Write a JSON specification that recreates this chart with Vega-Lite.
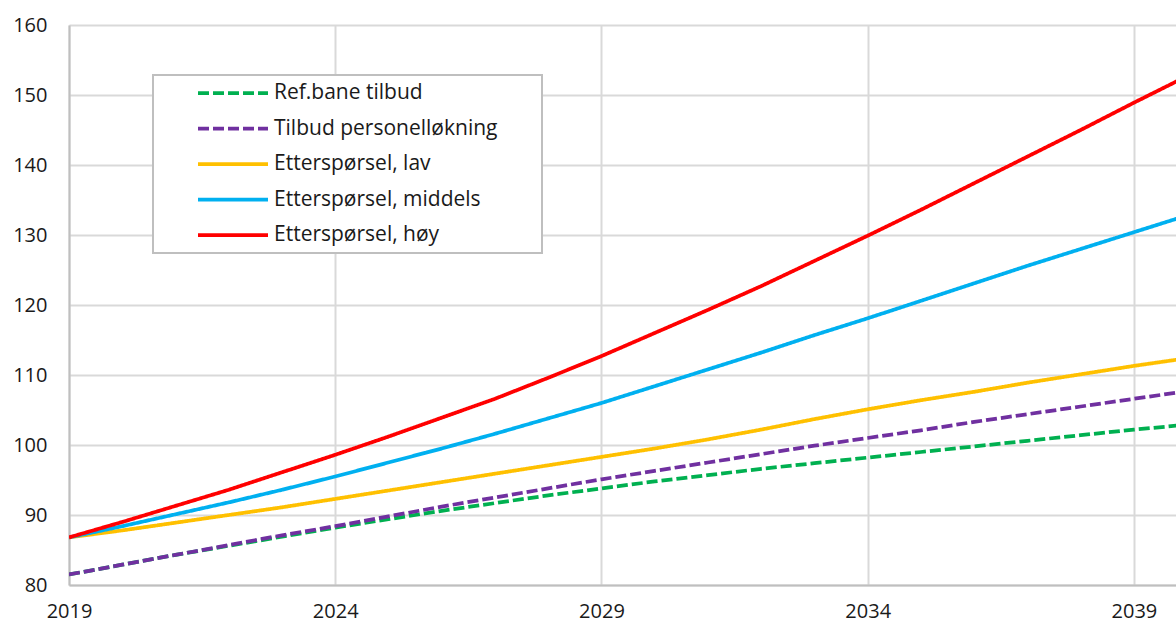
{
  "$schema": "https://vega.github.io/schema/vega-lite/v6.json",
  "width": 1107,
  "height": 560,
  "autosize": {"type": "none"},
  "padding": {"left": 69, "top": 25, "right": 0, "bottom": 39},
  "background": "white",
  "config": {
    "view": {"stroke": null},
    "font": "Open Sans",
    "legend": {
      "orient": "none",
      "legendX": 84,
      "legendY": 50,
      "title": null,
      "fillColor": "white",
      "strokeColor": "#bfbfbf",
      "strokeWidth": 2,
      "padding": 6,
      "symbolType": "stroke",
      "symbolSize": 4900,
      "symbolStrokeWidth": 3.75,
      "symbolOffset": 37,
      "clipHeight": 24,
      "labelOffset": 4,
      "labelFontSize": 21,
      "labelColor": "#1a1a1a",
      "labelFont": "Open Sans",
      "labelLimit": 500,
      "rowPadding": 11.5
    }
  },
  "data": {
    "values": [
      {"year": 2019, "series": "Ref.bane tilbud", "value": 81.5},
      {"year": 2020, "series": "Ref.bane tilbud", "value": 82.9},
      {"year": 2021, "series": "Ref.bane tilbud", "value": 84.3},
      {"year": 2022, "series": "Ref.bane tilbud", "value": 85.6},
      {"year": 2023, "series": "Ref.bane tilbud", "value": 86.9},
      {"year": 2024, "series": "Ref.bane tilbud", "value": 88.2},
      {"year": 2025, "series": "Ref.bane tilbud", "value": 89.4},
      {"year": 2026, "series": "Ref.bane tilbud", "value": 90.6},
      {"year": 2027, "series": "Ref.bane tilbud", "value": 91.7},
      {"year": 2028, "series": "Ref.bane tilbud", "value": 92.8},
      {"year": 2029, "series": "Ref.bane tilbud", "value": 93.8},
      {"year": 2030, "series": "Ref.bane tilbud", "value": 94.8},
      {"year": 2031, "series": "Ref.bane tilbud", "value": 95.7},
      {"year": 2032, "series": "Ref.bane tilbud", "value": 96.6},
      {"year": 2033, "series": "Ref.bane tilbud", "value": 97.4},
      {"year": 2034, "series": "Ref.bane tilbud", "value": 98.2},
      {"year": 2035, "series": "Ref.bane tilbud", "value": 99.0},
      {"year": 2036, "series": "Ref.bane tilbud", "value": 99.8},
      {"year": 2037, "series": "Ref.bane tilbud", "value": 100.6},
      {"year": 2038, "series": "Ref.bane tilbud", "value": 101.4},
      {"year": 2039, "series": "Ref.bane tilbud", "value": 102.2},
      {"year": 2040, "series": "Ref.bane tilbud", "value": 102.9},

      {"year": 2019, "series": "Tilbud personelløkning", "value": 81.5},
      {"year": 2020, "series": "Tilbud personelløkning", "value": 82.9},
      {"year": 2021, "series": "Tilbud personelløkning", "value": 84.3},
      {"year": 2022, "series": "Tilbud personelløkning", "value": 85.7},
      {"year": 2023, "series": "Tilbud personelløkning", "value": 87.1},
      {"year": 2024, "series": "Tilbud personelløkning", "value": 88.4},
      {"year": 2025, "series": "Tilbud personelløkning", "value": 89.8},
      {"year": 2026, "series": "Tilbud personelløkning", "value": 91.2},
      {"year": 2027, "series": "Tilbud personelløkning", "value": 92.5},
      {"year": 2028, "series": "Tilbud personelløkning", "value": 93.8},
      {"year": 2029, "series": "Tilbud personelløkning", "value": 95.1},
      {"year": 2030, "series": "Tilbud personelløkning", "value": 96.3},
      {"year": 2031, "series": "Tilbud personelløkning", "value": 97.5},
      {"year": 2032, "series": "Tilbud personelløkning", "value": 98.7},
      {"year": 2033, "series": "Tilbud personelløkning", "value": 99.9},
      {"year": 2034, "series": "Tilbud personelløkning", "value": 101.0},
      {"year": 2035, "series": "Tilbud personelløkning", "value": 102.1},
      {"year": 2036, "series": "Tilbud personelløkning", "value": 103.3},
      {"year": 2037, "series": "Tilbud personelløkning", "value": 104.4},
      {"year": 2038, "series": "Tilbud personelløkning", "value": 105.5},
      {"year": 2039, "series": "Tilbud personelløkning", "value": 106.6},
      {"year": 2040, "series": "Tilbud personelløkning", "value": 107.7},

      {"year": 2019, "series": "Etterspørsel, lav", "value": 86.8},
      {"year": 2020, "series": "Etterspørsel, lav", "value": 87.8},
      {"year": 2021, "series": "Etterspørsel, lav", "value": 88.9},
      {"year": 2022, "series": "Etterspørsel, lav", "value": 90.0},
      {"year": 2023, "series": "Etterspørsel, lav", "value": 91.1},
      {"year": 2024, "series": "Etterspørsel, lav", "value": 92.3},
      {"year": 2025, "series": "Etterspørsel, lav", "value": 93.5},
      {"year": 2026, "series": "Etterspørsel, lav", "value": 94.7},
      {"year": 2027, "series": "Etterspørsel, lav", "value": 95.9},
      {"year": 2028, "series": "Etterspørsel, lav", "value": 97.1},
      {"year": 2029, "series": "Etterspørsel, lav", "value": 98.3},
      {"year": 2030, "series": "Etterspørsel, lav", "value": 99.5},
      {"year": 2031, "series": "Etterspørsel, lav", "value": 100.8},
      {"year": 2032, "series": "Etterspørsel, lav", "value": 102.2},
      {"year": 2033, "series": "Etterspørsel, lav", "value": 103.7},
      {"year": 2034, "series": "Etterspørsel, lav", "value": 105.1},
      {"year": 2035, "series": "Etterspørsel, lav", "value": 106.4},
      {"year": 2036, "series": "Etterspørsel, lav", "value": 107.6},
      {"year": 2037, "series": "Etterspørsel, lav", "value": 108.9},
      {"year": 2038, "series": "Etterspørsel, lav", "value": 110.1},
      {"year": 2039, "series": "Etterspørsel, lav", "value": 111.3},
      {"year": 2040, "series": "Etterspørsel, lav", "value": 112.4},

      {"year": 2019, "series": "Etterspørsel, middels", "value": 86.8},
      {"year": 2020, "series": "Etterspørsel, middels", "value": 88.4},
      {"year": 2021, "series": "Etterspørsel, middels", "value": 90.1},
      {"year": 2022, "series": "Etterspørsel, middels", "value": 91.8},
      {"year": 2023, "series": "Etterspørsel, middels", "value": 93.6},
      {"year": 2024, "series": "Etterspørsel, middels", "value": 95.5},
      {"year": 2025, "series": "Etterspørsel, middels", "value": 97.5},
      {"year": 2026, "series": "Etterspørsel, middels", "value": 99.5},
      {"year": 2027, "series": "Etterspørsel, middels", "value": 101.6},
      {"year": 2028, "series": "Etterspørsel, middels", "value": 103.8},
      {"year": 2029, "series": "Etterspørsel, middels", "value": 106.0},
      {"year": 2030, "series": "Etterspørsel, middels", "value": 108.4},
      {"year": 2031, "series": "Etterspørsel, middels", "value": 110.8},
      {"year": 2032, "series": "Etterspørsel, middels", "value": 113.2},
      {"year": 2033, "series": "Etterspørsel, middels", "value": 115.7},
      {"year": 2034, "series": "Etterspørsel, middels", "value": 118.1},
      {"year": 2035, "series": "Etterspørsel, middels", "value": 120.6},
      {"year": 2036, "series": "Etterspørsel, middels", "value": 123.1},
      {"year": 2037, "series": "Etterspørsel, middels", "value": 125.6},
      {"year": 2038, "series": "Etterspørsel, middels", "value": 128.0},
      {"year": 2039, "series": "Etterspørsel, middels", "value": 130.4},
      {"year": 2040, "series": "Etterspørsel, middels", "value": 132.8},

      {"year": 2019, "series": "Etterspørsel, høy", "value": 86.8},
      {"year": 2020, "series": "Etterspørsel, høy", "value": 89.0},
      {"year": 2021, "series": "Etterspørsel, høy", "value": 91.3},
      {"year": 2022, "series": "Etterspørsel, høy", "value": 93.6},
      {"year": 2023, "series": "Etterspørsel, høy", "value": 96.1},
      {"year": 2024, "series": "Etterspørsel, høy", "value": 98.6},
      {"year": 2025, "series": "Etterspørsel, høy", "value": 101.2},
      {"year": 2026, "series": "Etterspørsel, høy", "value": 103.9},
      {"year": 2027, "series": "Etterspørsel, høy", "value": 106.6},
      {"year": 2028, "series": "Etterspørsel, høy", "value": 109.6},
      {"year": 2029, "series": "Etterspørsel, høy", "value": 112.7},
      {"year": 2030, "series": "Etterspørsel, høy", "value": 116.0},
      {"year": 2031, "series": "Etterspørsel, høy", "value": 119.3},
      {"year": 2032, "series": "Etterspørsel, høy", "value": 122.7},
      {"year": 2033, "series": "Etterspørsel, høy", "value": 126.3},
      {"year": 2034, "series": "Etterspørsel, høy", "value": 129.9},
      {"year": 2035, "series": "Etterspørsel, høy", "value": 133.6},
      {"year": 2036, "series": "Etterspørsel, høy", "value": 137.4},
      {"year": 2037, "series": "Etterspørsel, høy", "value": 141.2},
      {"year": 2038, "series": "Etterspørsel, høy", "value": 145.0},
      {"year": 2039, "series": "Etterspørsel, høy", "value": 148.9},
      {"year": 2040, "series": "Etterspørsel, høy", "value": 152.7}
    ]
  },
  "mark": {"type": "line", "strokeWidth": 3.75, "clip": true},
  "encoding": {
    "x": {
      "field": "year",
      "type": "quantitative",
      "scale": {"domain": [2019, 2039.79], "nice": false, "zero": false},
      "axis": {
        "title": null,
        "values": [2019, 2024, 2029, 2034, 2039],
        "format": "d",
        "labelFlush": false,
        "labelFontSize": 20,
        "labelColor": "#1a1a1a",
        "labelPadding": 16,
        "ticks": false,
        "domainColor": "#bfbfbf",
        "domainWidth": 2,
        "grid": true,
        "gridColor": "#d9d9d9",
        "gridWidth": 2
      }
    },
    "y": {
      "field": "value",
      "type": "quantitative",
      "scale": {"domain": [80, 160], "nice": false, "zero": false},
      "axis": {
        "title": null,
        "values": [80, 90, 100, 110, 120, 130, 140, 150, 160],
        "labelFontSize": 20,
        "labelColor": "#1a1a1a",
        "labelPadding": 22,
        "ticks": false,
        "domainColor": "#bfbfbf",
        "domainWidth": 2,
        "grid": true,
        "gridColor": "#d9d9d9",
        "gridWidth": 2
      }
    },
    "color": {
      "field": "series",
      "type": "nominal",
      "scale": {
        "domain": ["Ref.bane tilbud", "Tilbud personelløkning", "Etterspørsel, lav", "Etterspørsel, middels", "Etterspørsel, høy"],
        "range": ["#00b050", "#7030a0", "#ffc000", "#00b0f0", "#ff0000"]
      },
      "legend": {"title": null, "labelExpr": "datum.label + '\u00a0\u00a0\u00a0\u00a0\u00a0\u00a0\u00a0\u200b'"}
    },
    "strokeDash": {
      "field": "series",
      "type": "nominal",
      "scale": {
        "domain": ["Ref.bane tilbud", "Tilbud personelløkning", "Etterspørsel, lav", "Etterspørsel, middels", "Etterspørsel, høy"],
        "range": [[11, 4], [11, 4], [1, 0], [1, 0], [1, 0]]
      },
      "legend": {"title": null, "labelExpr": "datum.label + '\u00a0\u00a0\u00a0\u00a0\u00a0\u00a0\u00a0\u200b'"}
    }
  }
}
